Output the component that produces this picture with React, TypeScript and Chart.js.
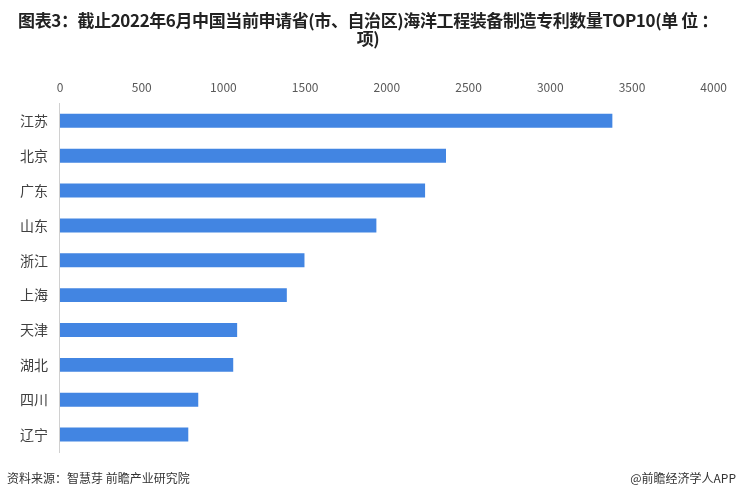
import React, { useEffect, useRef } from "react";
import { Chart, registerables } from "chart.js";

Chart.register(...registerables);

const categories = ["江苏", "北京", "广东", "山东", "浙江", "上海", "天津", "湖北", "四川", "辽宁"];
const patentCounts = [3380, 2362, 2234, 1936, 1496, 1388, 1084, 1060, 846, 785];
const xMax = 4000;
const xStep = 500;

const titleLines = ["图表3：截止2022年6月中国当前申请省(市、自治区)海洋工程装备制造专利数量TOP10(单 位 ：", "项)"];
const sourceText = "资料来源：智慧芽 前瞻产业研究院";
const brandText = "@前瞻经济学人APP";

const FONT = "'Noto Sans CJK SC', 'Noto Sans', sans-serif";

export default function App() {
  const canvasRef = useRef<HTMLCanvasElement | null>(null);

  useEffect(() => {
    const prevMargin = document.body.style.margin;
    document.body.style.margin = "0";
    const ctx = canvasRef.current!.getContext("2d")!;
    const chart = new Chart(ctx, {
      type: "bar",
      data: {
        labels: categories,
        datasets: [
          {
            data: patentCounts,
            backgroundColor: "#4285E2",
            barPercentage: 0.4,
            categoryPercentage: 1,
          },
        ],
      },
      options: {
        indexAxis: "y",
        animation: false,
        responsive: false,
        maintainAspectRatio: false,
        layout: { padding: { top: 71, bottom: 48, left: 8, right: 22 } },
        plugins: {
          legend: { display: false },
          title: { display: false },
          tooltip: { enabled: false },
        },
        scales: {
          x: {
            position: "top",
            min: 0,
            max: xMax,
            ticks: {
              stepSize: xStep,
              padding: 9,
              color: "#595959",
              font: { family: FONT, size: 12 },
              callback: (v: any) => String(v),
            },
            grid: { display: false, drawTicks: false },
            border: { display: false },
          },
          y: {
            ticks: {
              padding: 12,
              color: "#404040",
              font: { family: FONT, size: 14 },
            },
            grid: { display: false, drawTicks: false },
            border: { display: true, color: "#d0d0d0", width: 1 },
          },
        },
      },
    });
    return () => {
      chart.destroy();
      document.body.style.margin = prevMargin;
    };
  }, []);

  return (
    <div style={{ position: "relative", width: 736, height: 500, background: "#fff", fontFamily: FONT }}>
      <canvas ref={canvasRef} width={736} height={500} style={{ position: "absolute", left: 0, top: 0 }} />
      <div
        style={{
          position: "absolute",
          left: 0,
          top: 11,
          width: 736,
          textAlign: "center",
          fontWeight: "bold",
          fontSize: 17,
          lineHeight: "18px",
          color: "#222",
          letterSpacing: -0.4,
        }}
      >
        {titleLines.map((t, i) => (
          <div key={i}>{t}</div>
        ))}
      </div>
      <div style={{ position: "absolute", left: 7, top: 469, fontSize: 12, color: "#333" }}>{sourceText}</div>
      <div style={{ position: "absolute", right: 0, top: 469, fontSize: 12, color: "#333" }}>{brandText}</div>
    </div>
  );
}
